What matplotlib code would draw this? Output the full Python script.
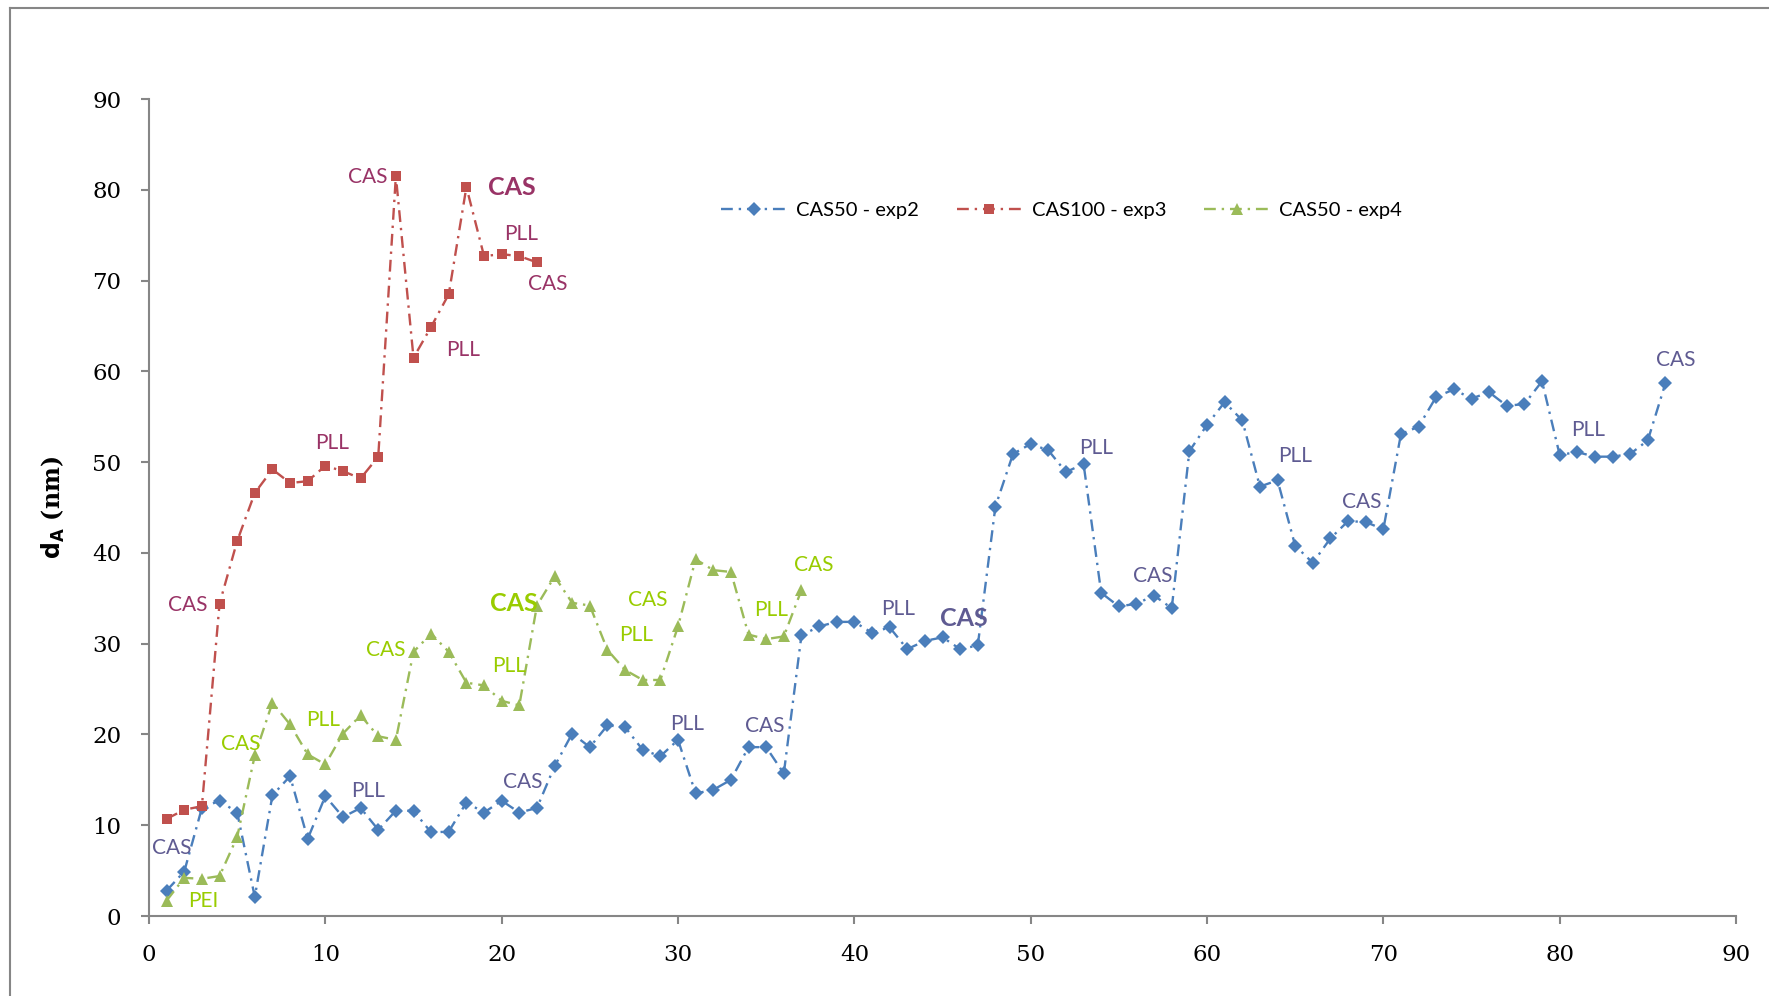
import numpy as np
import matplotlib
matplotlib.use("Agg")
import matplotlib.pyplot as plt
from matplotlib.lines import Line2D

# CAS50 - exp2 (blue diamonds), x = 1..86
exp2_y = [2.8, 4.9, 11.9, 12.7, 11.4, 2.1, 13.3, 15.4, 8.5, 13.2,
          10.9, 11.9, 9.5, 11.6, 11.6, 9.2, 9.3, 12.5, 11.4, 12.7,
          11.4, 11.9, 16.5, 20.1, 18.6, 21.0, 20.8, 18.3, 17.6, 19.4,
          13.5, 13.9, 15.0, 18.6, 18.6, 15.7, 30.9, 31.9, 32.4, 32.4,
          31.2, 31.8, 29.4, 30.3, 30.7, 29.4, 29.8, 45.1, 50.9, 52.0,
          51.3, 48.9, 49.8, 35.6, 34.1, 34.4, 35.3, 33.9, 51.2, 54.1,
          56.6, 54.6, 47.3, 48.0, 40.8, 38.9, 41.6, 43.5, 43.4, 42.6,
          53.1, 53.9, 57.2, 58.0, 57.0, 57.7, 56.2, 56.4, 58.9, 50.8,
          51.1, 50.6, 50.6, 50.9, 52.4, 58.7]
# CAS100 - exp3 (red squares), x = 1..22
exp3_y = [10.7, 11.7, 12.1, 34.4, 41.3, 46.6, 49.2, 47.7, 47.9, 49.6,
          49.0, 48.2, 50.6, 81.5, 61.5, 64.9, 68.5, 80.3, 72.7, 72.9,
          72.7, 72.0]
# CAS50 - exp4 (green triangles), x = 1..37
exp4_y = [1.7, 4.2, 4.1, 4.4, 8.7, 17.7, 23.5, 21.1, 17.8, 16.7,
          20.1, 22.1, 19.8, 19.4, 29.1, 31.1, 29.1, 25.7, 25.4, 23.7,
          23.2, 34.2, 37.4, 34.5, 34.2, 29.3, 27.1, 26.0, 26.0, 31.9,
          39.3, 38.1, 37.9, 31.0, 30.5, 30.8, 35.9]

series_names = ["CAS50 - exp2", "CAS100 - exp3", "CAS50 - exp4"]
series_colors = ["#4A7EBB", "#C0504D", "#9BBB59"]
label_colors = ["#5F5B92", "#993366", "#99CC00"]

# annotations: (text, x, y, bold)
labels_exp2 = [("CAS", 1.3, 7.5, False), ("PLL", 12.4, 13.8, False), ("CAS", 21.2, 14.8, False),
               ("PLL", 30.5, 21.1, False), ("CAS", 34.9, 20.9, False), ("PLL", 42.5, 33.8, False),
               ("CAS", 46.2, 32.8, True), ("PLL", 53.7, 51.5, False), ("CAS", 56.9, 37.4, False),
               ("PLL", 65.0, 50.7, False), ("CAS", 68.8, 45.6, False), ("PLL", 81.6, 53.5, False),
               ("CAS", 86.6, 61.2, False)]
labels_exp3 = [("CAS", 12.4, 81.4, False), ("CAS", 20.6, 80.2, True), ("PLL", 21.1, 75.1, False),
               ("CAS", 22.6, 69.6, False), ("PLL", 17.8, 62.3, False), ("PLL", 10.4, 52.1, False),
               ("CAS", 2.2, 34.3, False)]
labels_exp4 = [("PEI", 3.1, 1.6, False), ("CAS", 5.2, 19.0, False), ("PLL", 9.9, 21.6, False),
               ("CAS", 13.4, 29.3, False), ("PLL", 20.4, 27.5, False), ("CAS", 20.7, 34.4, True),
               ("CAS", 28.3, 34.8, False), ("PLL", 27.6, 31.0, False), ("PLL", 35.3, 33.7, False),
               ("CAS", 37.7, 38.7, False)]

fig = plt.figure(figsize=(17.69, 9.96), dpi=100)
ax = fig.add_axes([149 / 1769, 80 / 996, (1736 - 149) / 1769, (916 - 99) / 996])

ls = (0, (5, 2.5, 1, 2.5))
markers = ["D", "s", "^"]
msizes = [7, 7.5, 8.5]
data = [exp2_y, exp3_y, exp4_y]
for ys, name, c, m, ms in zip(data, series_names, series_colors, markers, msizes):
    xs = np.arange(1, len(ys) + 1)
    ax.plot(xs, ys, linestyle=ls, color=c, lw=1.7, marker=m, markersize=ms,
            markeredgewidth=0, label=name)

for labs, c in zip([labels_exp2, labels_exp3, labels_exp4], label_colors):
    for txt, x, y, bold in labs:
        ax.text(x, y, txt, color=c, ha="center", va="center", family="Lato",
                fontsize=18 if bold else 15, fontweight="bold" if bold else "normal")

ax.set_xlim(0, 90)
ax.set_ylim(0, 90)
ax.set_xticks(np.arange(0, 91, 10))
ax.set_yticks(np.arange(0, 91, 10))
for s in ["top", "right"]:
    ax.spines[s].set_visible(False)
for s in ["left", "bottom"]:
    ax.spines[s].set_color("#868686")
    ax.spines[s].set_linewidth(1.5)
ax.tick_params(axis="both", direction="out", length=6, width=1.5, color="#868686",
               labelsize=16.5, pad=14)
for lab in ax.get_xticklabels() + ax.get_yticklabels():
    lab.set_family("DejaVu Serif")

ax.set_ylabel(r"$\mathbf{d_A}$ (nm)", family="DejaVu Serif", fontsize=17, fontweight="bold",
              labelpad=18)

leg = ax.legend(loc="center", bbox_to_anchor=(0.575, 0.864), ncol=3, frameon=False,
                prop={"family": "Lato", "size": 14.5}, handlelength=3.2, columnspacing=1.9,
                handletextpad=0.5)

# outer chart frame
fig.add_artist(Line2D([10 / 1769, 1], [1 - 8 / 996, 1 - 8 / 996], color="#868686", lw=1.5))
fig.add_artist(Line2D([10 / 1769, 10 / 1769], [0, 1 - 8 / 996], color="#868686", lw=1.5))

fig.savefig("out.png", dpi=100)
